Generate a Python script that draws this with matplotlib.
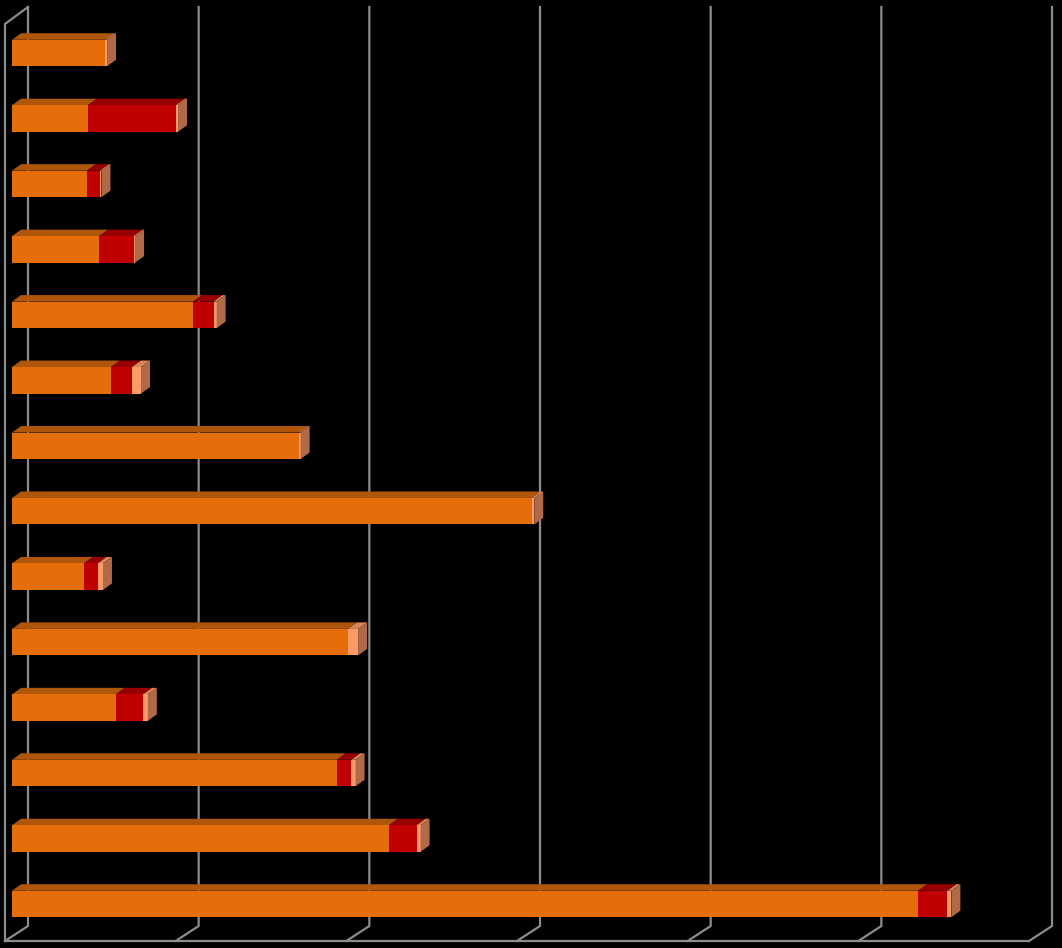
import matplotlib
matplotlib.use("Agg")
import matplotlib.pyplot as plt
from matplotlib.patches import Polygon
from matplotlib.transforms import IdentityTransform
import numpy as np

# values per bar, top to bottom (one gridline = 10 units)
orange = [5.45, 4.45, 4.39, 5.10, 10.61, 5.80, 16.83, 30.45, 4.22, 19.69, 6.08, 19.04, 22.09, 53.09]
red = [0, 5.16, 0.76, 2.02, 1.20, 1.23, 0, 0, 0.80, 0, 1.60, 0.84, 1.62, 1.72]
salmon = [0.12, 0.12, 0.09, 0.09, 0.18, 0.53, 0.08, 0.15, 0.31, 0.59, 0.28, 0.25, 0.23, 0.23]
x_ticks = [0, 10, 20, 30, 40, 50, 60]

W, H = 1062, 948
PX_PER_UNIT = 170.67 / 10
SLOT = 65.46
BAR_H = 26.5 / SLOT

# front / top colours for each series
FRONT = ['#E56D0A', '#C00000', '#FC9A68']
TOP = ['#B0560A', '#960000', '#D9875A']
SIDE = '#B06A48'
GRID = '#8C8C8C'

BAR_DEPTH = (9, 6.5)      # pixels, towards the back wall
WALL_BACK = (16, 11.5)    # bar front plane -> back wall
WALL_FRONT = (-7, -4.5)   # bar front plane -> front edge of floor

fig = plt.figure(figsize=(W / 100, H / 100), dpi=100, facecolor='black')
ax = fig.add_axes([0, 0, 1, 1])
ax.set_facecolor('black')
ax.axis('off')
ax.set_xlim(-12 / PX_PER_UNIT, (W - 12) / PX_PER_UNIT)
ax.set_ylim((H - 53) / SLOT, -53 / SLOT)

ident = IdentityTransform()


def px(x, y):
    return ax.transData.transform((x, y))


# walls and gridlines (pixel space)
top_y = H - 7
back_floor_y = H - 926
front_floor_y = H - 941
grid_kw = dict(color=GRID, lw=1.6, transform=ident, clip_on=False, zorder=1,
               solid_capstyle='projecting')
for v in x_ticks:
    bx = px(v, 0)[0] + WALL_BACK[0]
    fx = bx - 23
    ax.plot([bx, bx, fx], [top_y, back_floor_y, front_floor_y], **grid_kw)
x0 = px(x_ticks[0], 0)[0] + WALL_BACK[0]
x1 = px(x_ticks[-1], 0)[0] + WALL_BACK[0]
ax.plot([x0 - 23, x1 - 23], [front_floor_y, front_floor_y], **grid_kw)
ax.plot([x0, x0 - 23, x0 - 23], [top_y, top_y - 17, front_floor_y], **grid_kw)

ypos = np.arange(len(orange))
dx, dy = BAR_DEPTH

for i in ypos:
    segs = [orange[i], red[i], salmon[i]]
    left = 0.0
    top = i - BAR_H / 2
    bot = i + BAR_H / 2
    for k, w in enumerate(segs):
        if w <= 0:
            continue
        a = px(left, top)
        b = px(left + w, top)
        ax.add_patch(Polygon([a, b, b + [dx, dy], a + [dx, dy]], closed=True,
                             transform=ident, facecolor=TOP[k], edgecolor='none',
                             zorder=3))
        ax.barh(i, w, left=left, height=BAR_H, color=FRONT[k], edgecolor='none',
                zorder=4)
        left += w
    # end face
    a = px(left, top)
    b = px(left, bot)
    ax.add_patch(Polygon([a, b, b + [dx, dy], a + [dx, dy]], closed=True,
                         transform=ident, facecolor=SIDE, edgecolor='none', zorder=5))

fig.savefig('out.png', dpi=100, facecolor='black')
